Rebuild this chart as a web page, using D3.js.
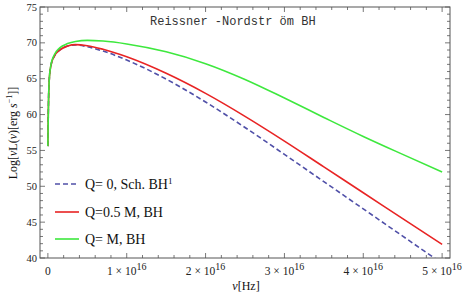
<!DOCTYPE html>
<html>
<head>
<meta charset="utf-8">
<script src="https://cdn.jsdelivr.net/npm/d3@7"></script>
<style>
  body { margin: 0; background: #fff; }
  svg { display: block; }
  .tick-label { font-family: "Liberation Serif", "Times New Roman", serif; font-size: 10.5px; fill: #222; }
  .xtick-label { font-family: "Liberation Serif", "Times New Roman", serif; font-size: 11.5px; fill: #222; }
  .legend-label { font-family: "Liberation Serif", "Times New Roman", serif; font-size: 14px; fill: #111; }
  .axis-title { font-family: "Liberation Serif", "Times New Roman", serif; font-size: 12px; fill: #111; }
  .title { font-family: "Liberation Mono", "Courier New", monospace; font-size: 12px; fill: #333; }
</style>
</head>
<body>
<svg id="chart" width="463" height="302"></svg>
<script>
// frequency grid, in units of 1e16 Hz
var nu = [0, 0.005, 0.01, 0.02, 0.04, 0.08, 0.15, 0.25, 0.35, 0.5, 0.7, 1.0, 1.5, 2.0, 2.5, 3.0, 3.5, 4.0, 4.5, 5.0];

var schwarzschild = [55.6, 60.0, 62.8, 65.3, 66.9, 68.1, 69.0, 69.55, 69.7, 69.45, 68.85, 67.6, 64.95, 61.75, 58.2, 54.45, 50.65, 46.85, 43.05, 39.25];
var halfCharge    = [55.6, 60.0, 62.8, 65.3, 66.9, 68.1, 69.0, 69.55, 69.75, 69.6, 69.1, 68.05, 65.75, 62.95, 59.75, 56.3, 52.7, 49.1, 45.5, 41.9];
var fullCharge    = [55.6, 60.0, 62.8, 65.3, 67.0, 68.3, 69.3, 69.9, 70.2, 70.35, 70.25, 69.85, 68.75, 67.1, 64.9, 62.3, 59.6, 56.95, 54.45, 52.0];

var seriesNames = ["Q= 0, Sch. BH", "Q=0.5 M, BH", "Q= M, BH"];

var xTicks = [0, 1, 2, 3, 4, 5];
var yTicks = [40, 45, 50, 55, 60, 65, 70, 75];

(function() {
    var svg = d3.select("#chart");
    var left = 40, right = 450, top = 7, bottom = 258;

    var x = d3.scaleLinear().domain([-0.1, 5.1]).range([left, right]);
    var y = d3.scaleLinear().domain([40, 75]).range([bottom, top]);

    svg.append("defs").append("clipPath").attr("id", "plotclip")
      .append("rect")
        .attr("x", left).attr("y", top)
        .attr("width", right - left).attr("height", bottom - top);

    // frame
    svg.append("rect")
      .attr("x", left).attr("y", top)
      .attr("width", right - left).attr("height", bottom - top)
      .attr("fill", "none")
      .attr("stroke", "#555")
      .attr("stroke-width", 1);

    // x ticks, bottom and top, pointing inward
    var xMinor = d3.range(0, 5.01, 0.2);
    var ticks = svg.append("g").attr("stroke", "#555").attr("stroke-width", 0.8);
    xMinor.forEach(function(d) {
        var major = Math.abs(d - Math.round(d)) < 1e-6;
        var len = major ? 5 : 3;
        ticks.append("line")
          .attr("x1", x(d)).attr("x2", x(d))
          .attr("y1", bottom).attr("y2", bottom - len);
        ticks.append("line")
          .attr("x1", x(d)).attr("x2", x(d))
          .attr("y1", top).attr("y2", top + len);
    });

    // y ticks, left and right
    d3.range(40, 75.01, 1).forEach(function(d) {
        var len = d % 5 === 0 ? 5 : 3;
        ticks.append("line")
          .attr("x1", left).attr("x2", left + len)
          .attr("y1", y(d)).attr("y2", y(d));
        ticks.append("line")
          .attr("x1", right).attr("x2", right - len)
          .attr("y1", y(d)).attr("y2", y(d));
    });

    // y tick labels
    svg.selectAll("ylab")
      .data(yTicks)
      .enter()
      .append("text")
        .attr("class", "tick-label")
        .attr("x", left - 3)
        .attr("y", function(d) { return y(d) + 3.5; })
        .attr("text-anchor", "end")
        .text(function(d) { return d; });

    // x tick labels
    var xl = svg.selectAll("xlab")
      .data(xTicks)
      .enter()
      .append("text")
        .attr("class", "xtick-label")
        .attr("x", function(d) { return x(d); })
        .attr("y", 275)
        .attr("text-anchor", "middle")
        .attr("xml:space", "preserve");
    xl.each(function(d) {
        var t = d3.select(this);
        if (d === 0) { t.text("0"); return; }
        t.append("tspan").text(d + " \u00d7 10");
        t.append("tspan").attr("dy", -5).attr("font-size", "10px").text("16");
    });

    // curves
    var line = d3.line()
        .x(function(d) { return x(d[0]); })
        .y(function(d) { return y(d[1]); })
        .curve(d3.curveMonotoneX);

    var series = [
        { values: schwarzschild, color: "#5050a8", dash: "5,3" },
        { values: halfCharge, color: "#e82424", dash: null },
        { values: fullCharge, color: "#3ee83e", dash: null }
    ];

    var curves = svg.append("g").attr("clip-path", "url(#plotclip)");
    series.forEach(function(s) {
        curves.append("path")
          .datum(nu.map(function(v, i) { return [v, s.values[i]]; }))
          .attr("d", line)
          .attr("fill", "none")
          .attr("stroke", s.color)
          .attr("stroke-width", 1.6)
          .attr("stroke-dasharray", s.dash);
    });

    // legend
    var legendY = [184, 212, 239];
    series.forEach(function(s, i) {
        svg.append("line")
          .attr("x1", 55).attr("x2", 79)
          .attr("y1", legendY[i]).attr("y2", legendY[i])
          .attr("stroke", s.color)
          .attr("stroke-width", 1.6)
          .attr("stroke-dasharray", s.dash);
        var t = svg.append("text")
          .attr("class", "legend-label")
          .attr("x", 85)
          .attr("y", legendY[i] + 5)
          .text(seriesNames[i]);
        if (i === 0) {
            t.append("tspan").attr("dy", -5).attr("font-size", "9px").text("1");
        }
    });

    // title
    svg.append("text")
      .attr("class", "title")
      .attr("x", 150)
      .attr("y", 25)
      .attr("xml:space", "preserve")
      .text("Reissner -Nordstr \u00f6m BH");

    // axis titles
    svg.append("text")
      .attr("class", "axis-title")
      .attr("x", 246)
      .attr("y", 290)
      .attr("text-anchor", "middle")
      .html('<tspan font-style="italic">\u03bd</tspan>[Hz]');

    var yt = svg.append("text")
      .attr("class", "axis-title")
      .attr("transform", "translate(17,133) rotate(-90)")
      .attr("text-anchor", "middle");
    yt.append("tspan").text("Log[");
    yt.append("tspan").attr("font-style", "italic").text("\u03bd");
    yt.append("tspan").text("L(");
    yt.append("tspan").attr("font-style", "italic").text("\u03bd");
    yt.append("tspan").text(")[erg ");
    yt.append("tspan").attr("font-style", "italic").text("s");
    yt.append("tspan").attr("dy", -5).attr("font-size", "8px").text("\u22121");
    yt.append("tspan").attr("dy", 5).text("]]");
})();
</script>
</body>
</html>
